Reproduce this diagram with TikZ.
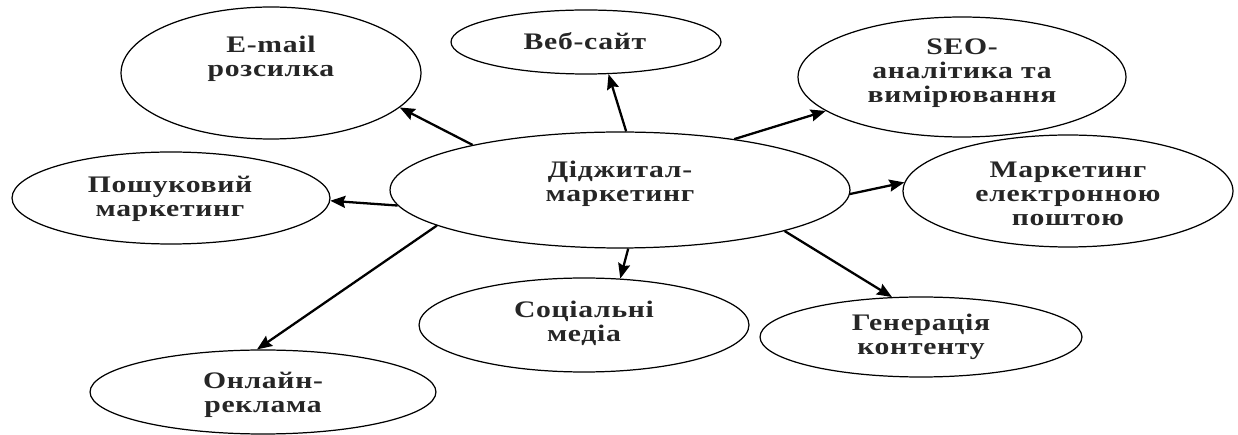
\documentclass[tikz,border=0pt]{standalone}
\usepackage{fontspec}
\newfontfamily\lblfont{Liberation Serif}[FakeStretch=1.25,LetterSpace=3]
\usetikzlibrary{arrows.meta,shapes.geometric}
\begin{document}
\begin{tikzpicture}[x=0.02cm,y=-0.02cm,
  ell/.style={draw, ellipse, line width=0.7pt, inner sep=0pt},
  lbl/.style={align=center, font=\lblfont\bfseries\fontsize{13.5}{13.8}\selectfont, text=black!85, inner sep=0pt},
  arr/.style={line width=1.3pt, -{Stealth[length=3mm,width=2.4mm,inset=0.4mm]}}]
\useasboundingbox (0,0) rectangle (1238,435);
% ellipses
\node[ell, minimum width=9.2cm, minimum height=2.32cm] (c) at (620,190) {};
\node[ell, minimum width=6cm, minimum height=2.64cm] (email) at (271,73) {};
\node[ell, minimum width=5.4cm, minimum height=1.28cm] (web) at (586,42) {};
\node[ell, minimum width=6.56cm, minimum height=2.4cm] (seo) at (962,77) {};
\node[ell, minimum width=6.36cm, minimum height=1.84cm] (search) at (171,198) {};
\node[ell, minimum width=6.6cm, minimum height=2.24cm] (mail) at (1068,191) {};
\node[ell, minimum width=6.6cm, minimum height=1.88cm] (social) at (584,325) {};
\node[ell, minimum width=6.44cm, minimum height=1.6cm] (gen) at (921,337) {};
\node[ell, minimum width=6.92cm, minimum height=1.68cm] (online) at (263,392) {};
% labels
\node[lbl] (tc) at (620,184) {Діджитал-\\маркетинг};
\node[lbl] (temail) at (271,59) {E-mail\\розсилка};
\node[lbl] (tweb) at (585,41) {Веб-сайт};
\node[lbl] (tseo) at (962,73) {SEO-\\аналітика та\\вимірювання};
\node[lbl] (tsearch) at (170,199) {Пошуковий\\маркетинг};
\node[lbl] (tmail) at (1068,194) {Маркетинг\\електронною\\поштою};
\node[lbl] (tsocial) at (584,323) {Соціальні\\медіа};
\node[lbl] (tgen) at (921,337) {Генерація\\контенту};
\node[lbl] (tonline) at (263,395) {Онлайн-\\реклама};
% arrows
\draw[arr] (c.163.3) -- (email.345.5);
\draw[arr] (c.84.1) -- (web.305);
\draw[arr] (c.24) -- (seo.194);
\draw[arr] (c.184.7) -- (search.359.3);
\draw[arr] (c.359.2) -- (mail.177.6);
\draw[arr] (c.278.1) -- (social.52);
\draw[arr] (c.346.8) -- (gen.126);
\draw[arr] (c.191) -- (online.98.5);
\end{tikzpicture}
\end{document}
